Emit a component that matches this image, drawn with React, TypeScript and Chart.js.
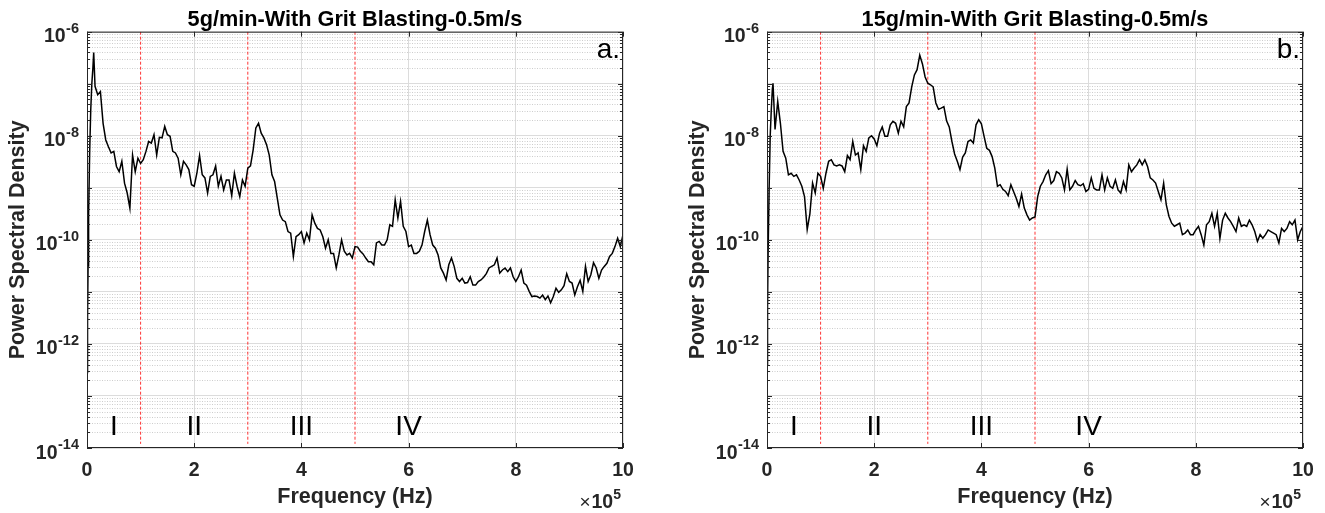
import React, { useEffect, useRef } from 'react';
import { Chart, registerables } from 'chart.js';

Chart.register(...registerables);

const FONT = '"Liberation Sans", Arial, Helvetica, sans-serif';
const INK = '#262626';

const TITLES = ['5g/min-With Grit Blasting-0.5m/s', '15g/min-With Grit Blasting-0.5m/s'];
const PANEL_TAGS = ['a.', 'b.'];
const X_LABEL = 'Frequency (Hz)';
const Y_LABEL = 'Power Spectral Density';
const X_MULTIPLIER_BASE = '10';
const X_MULTIPLIER_EXP = '5';
const X_TICKS = [0, 2, 4, 6, 8, 10];
const Y_GRID_EXPONENTS = [-14, -13, -12, -11, -10, -9, -8, -7, -6];
const Y_LABEL_EXPONENTS = [-6, -8, -10, -12, -14];
const MINOR_MULTIPLIERS = [2, 3, 4, 5, 6, 7, 8, 9];
const Y_MIN = 1e-14;
const Y_MAX = 1e-6;
const REGION_BOUNDARIES = [1, 3, 5];
const REGION_NAMES = ['I', 'II', 'III', 'IV'];
const REGION_NAME_FREQ = [0.5, 2, 4, 6];
const REGION_NAME_PSD = 1.8e-14;
const BOUNDARY_TOP = 1e-6;
const BOUNDARY_BOTTOM = 1.2e-14;

// frequency in units of 1e5 Hz; PSD stored as log10 values
const HEAD_FREQ_A = [0, 0.01, 0.02, 0.03, 0.05, 0.07, 0.09, 0.11, 0.125];
const HEAD_LOG_A = [-12.55, -11.5, -10.5, -9.5, -8.3, -7.5, -7.0, -6.7, -6.4];
const HEAD_FREQ_B = [0, 0.01, 0.02, 0.04, 0.06, 0.08, 0.1, 0.112];
const HEAD_LOG_B = [-12.4, -11.3, -10.3, -9.0, -8.0, -7.5, -7.1, -6.99];

const BODY_START = 0.15;
const BODY_STEP = 0.05;

const BODY_LOG_A = [
  -7.05, -7.21, -7.15, -7.76, -8.08, -8.21, -8.33, -8.30, -8.59, -8.69,
  -8.49, -8.91, -9.10, -9.39, -8.37, -8.69, -8.43, -8.53, -8.46, -8.30,
  -8.11, -8.14, -7.98, -8.37, -8.03, -8.04, -7.82, -7.98, -8.01, -8.30,
  -8.33, -8.43, -8.75, -8.49, -8.56, -8.65, -8.94, -8.97, -8.72, -8.38,
  -8.75, -8.81, -9.10, -8.78, -8.75, -8.58, -8.97, -8.78, -9.04, -8.85,
  -8.85, -9.15, -8.72, -8.97, -9.17, -8.85, -8.97, -8.62, -8.58, -8.27,
  -7.85, -7.76, -7.95, -8.04, -8.17, -8.37, -8.75, -8.88, -9.20, -9.52,
  -9.62, -9.65, -9.84, -9.87, -10.32, -9.94, -9.90, -9.84, -10.06, -9.87,
  -10.00, -9.52, -9.68, -9.78, -9.81, -9.94, -10.16, -10.00, -10.26, -10.26,
  -10.54, -10.29, -10.00, -10.22, -10.29, -10.26, -10.35, -10.13, -10.14, -10.22,
  -10.27, -10.35, -10.42, -10.42, -10.48, -10.06, -10.03, -10.10, -10.10, -10.00,
  -9.71, -9.74, -9.23, -9.58, -9.26, -9.74, -9.84, -10.13, -10.10, -10.26,
  -10.26, -10.22, -10.10, -9.84, -9.62, -9.90, -10.10, -10.16, -10.29, -10.54,
  -10.64, -10.77, -10.48, -10.35, -10.51, -10.74, -10.80, -10.74, -10.83, -10.82,
  -10.71, -10.87, -10.87, -10.80, -10.77, -10.72, -10.65, -10.54, -10.51, -10.48,
  -10.35, -10.64, -10.58, -10.54, -10.61, -10.54, -10.71, -10.80, -10.71, -10.58,
  -10.83, -10.87, -10.99, -11.09, -11.08, -11.09, -11.12, -11.06, -11.15, -11.08,
  -11.21, -11.09, -10.93, -11.01, -10.96, -10.88, -10.65, -10.80, -10.83, -11.06,
  -10.90, -10.78, -10.99, -10.51, -10.80, -10.67, -10.44, -10.54, -10.74, -10.58,
  -10.51, -10.45, -10.32, -10.26, -10.13, -9.97, -10.13, -9.90,
];

const BODY_LOG_B = [
  -7.88, -7.34, -7.76, -8.30, -8.43, -8.75, -8.72, -8.78, -8.75, -8.85,
  -8.97, -9.17, -9.80, -9.50, -8.91, -9.10, -8.72, -8.78, -9.01, -8.72,
  -8.49, -8.46, -8.56, -8.58, -8.56, -8.58, -8.69, -8.38, -8.46, -8.11,
  -8.37, -8.33, -8.65, -8.19, -8.30, -8.04, -8.00, -8.06, -8.19, -7.95,
  -7.83, -8.01, -8.01, -7.79, -7.72, -7.76, -7.95, -7.72, -7.83, -7.44,
  -7.37, -7.06, -6.83, -6.73, -6.45, -6.62, -6.87, -6.99, -7.02, -7.06,
  -7.37, -7.49, -7.47, -7.44, -7.71, -7.83, -8.11, -8.35, -8.49, -8.65,
  -8.41, -8.33, -8.11, -8.08, -8.14, -7.79, -7.69, -7.77, -8.01, -8.24,
  -8.28, -8.40, -8.62, -8.97, -8.94, -9.03, -9.07, -9.15, -8.94, -9.07,
  -9.20, -9.36, -9.12, -9.39, -9.52, -9.62, -9.58, -9.56, -9.17, -8.97,
  -8.88, -8.75, -8.67, -8.92, -8.86, -8.69, -8.72, -8.81, -9.04, -8.64,
  -9.04, -8.97, -8.86, -8.94, -8.96, -8.92, -9.07, -9.03, -8.81, -9.01,
  -9.04, -9.04, -8.75, -9.04, -8.81, -8.97, -9.01, -8.85, -9.04, -9.10,
  -8.88, -9.04, -8.56, -8.69, -8.62, -8.56, -8.46, -8.56, -8.46, -8.59,
  -8.81, -8.85, -8.91, -9.07, -9.23, -8.91, -9.33, -9.55, -9.68, -9.74,
  -9.71, -9.68, -9.90, -9.87, -9.81, -9.90, -9.90, -9.81, -9.74, -9.90,
  -10.10, -9.71, -9.65, -9.49, -9.74, -9.49, -9.97, -9.62, -9.49, -9.58,
  -9.65, -9.74, -9.84, -9.58, -9.74, -9.71, -9.74, -9.62, -9.71, -9.84,
  -10.03, -9.90, -9.97, -9.90, -9.81, -9.84, -9.87, -9.90, -10.06, -9.78,
  -9.84, -9.78, -9.65, -9.71, -9.62, -10.00, -9.84, -9.74,
];

const SERIES = [
  { headFreq: HEAD_FREQ_A, headLog: HEAD_LOG_A, bodyLog: BODY_LOG_A },
  { headFreq: HEAD_FREQ_B, headLog: HEAD_LOG_B, bodyLog: BODY_LOG_B },
];

function buildPoints(idx: number) {
  const s = SERIES[idx];
  const pts: { x: number; y: number }[] = [];
  s.headFreq.forEach((f, i) => pts.push({ x: f, y: Math.pow(10, s.headLog[i]) }));
  s.bodyLog.forEach((v, i) => pts.push({ x: +(BODY_START + i * BODY_STEP).toFixed(2), y: Math.pow(10, v) }));
  return pts;
}

const decorPlugin = {
  id: 'psdDecor',
  beforeDatasetsDraw(chart: any) {
    const { ctx, chartArea: a, scales } = chart;
    const y = scales.y;
    ctx.save();
    ctx.beginPath();
    ctx.rect(a.left, a.top, a.right - a.left, a.bottom - a.top);
    ctx.clip();
    ctx.strokeStyle = '#cdcdcd';
    ctx.lineWidth = 1;
    ctx.setLineDash([1, 1.5]);
    for (let k = 0; k < Y_GRID_EXPONENTS.length - 1; k++) {
      const e = Y_GRID_EXPONENTS[k];
      for (const m of MINOR_MULTIPLIERS) {
        const py = Math.round(y.getPixelForValue(m * Math.pow(10, e))) + 0.5;
        ctx.beginPath();
        ctx.moveTo(a.left, py);
        ctx.lineTo(a.right, py);
        ctx.stroke();
      }
    }
    ctx.restore();
  },
  afterDraw(chart: any, _args: any, opts: any) {
    const { ctx, chartArea: a, scales } = chart;
    const x = scales.x;
    const y = scales.y;
    ctx.save();
    // box
    ctx.strokeStyle = INK;
    ctx.lineWidth = 1;
    ctx.setLineDash([]);
    ctx.strokeRect(a.left + 0.5, a.top + 0.5, a.right - a.left - 1, a.bottom - a.top - 1);
    // x ticks (inward, top and bottom)
    ctx.beginPath();
    for (const v of X_TICKS) {
      const px = Math.round(x.getPixelForValue(v)) + 0.5;
      ctx.moveTo(px, a.bottom);
      ctx.lineTo(px, a.bottom - 5);
      ctx.moveTo(px, a.top);
      ctx.lineTo(px, a.top + 5);
    }
    // y ticks (inward, left and right)
    for (let k = 0; k < Y_GRID_EXPONENTS.length; k++) {
      const e = Y_GRID_EXPONENTS[k];
      const py = Math.round(y.getPixelForValue(Math.pow(10, e))) + 0.5;
      ctx.moveTo(a.left, py);
      ctx.lineTo(a.left + 5, py);
      ctx.moveTo(a.right, py);
      ctx.lineTo(a.right - 5, py);
      if (k < Y_GRID_EXPONENTS.length - 1) {
        for (const m of MINOR_MULTIPLIERS) {
          const pm = Math.round(y.getPixelForValue(m * Math.pow(10, e))) + 0.5;
          ctx.moveTo(a.left, pm);
          ctx.lineTo(a.left + 3, pm);
          ctx.moveTo(a.right, pm);
          ctx.lineTo(a.right - 3, pm);
        }
      }
    }
    ctx.stroke();

    // y tick labels 10^e
    ctx.fillStyle = INK;
    ctx.textBaseline = 'alphabetic';
    for (const e of Y_LABEL_EXPONENTS) {
      const py = y.getPixelForValue(Math.pow(10, e));
      const expText = String(e);
      ctx.font = `bold 14.5px ${FONT}`;
      ctx.textAlign = 'right';
      const ew = ctx.measureText(expText).width;
      ctx.fillText(expText, a.left - 8, py + 1);
      ctx.font = `bold 19.5px ${FONT}`;
      ctx.fillText('10', a.left - 8 - ew - 0.5, py + 10.5);
    }

    // x multiplier  ×10^5
    ctx.textAlign = 'right';
    ctx.font = `bold 14px ${FONT}`;
    const w5 = ctx.measureText(X_MULTIPLIER_EXP).width;
    ctx.fillText(X_MULTIPLIER_EXP, a.right - 2, a.bottom + 51);
    ctx.font = `bold 19.5px ${FONT}`;
    const w10 = ctx.measureText(X_MULTIPLIER_BASE).width;
    ctx.fillText(X_MULTIPLIER_BASE, a.right - 2 - w5, a.bottom + 60);
    ctx.font = `19px ${FONT}`;
    ctx.fillText('\u00D7', a.right - 3 - w5 - w10, a.bottom + 60);

    // region names
    ctx.fillStyle = '#000';
    ctx.font = `28px ${FONT}`;
    ctx.textAlign = 'center';
    REGION_NAMES.forEach((n, i) => {
      ctx.fillText(n, x.getPixelForValue(REGION_NAME_FREQ[i]), y.getPixelForValue(REGION_NAME_PSD));
    });

    // panel tag
    ctx.textAlign = 'right';
    ctx.fillText(opts.tag, a.right - 3, a.top + 26);
    ctx.restore();
  },
};

function PsdPanel({ index, left }: { index: number; left: number }) {
  const ref = useRef<HTMLCanvasElement>(null);
  useEffect(() => {
    if (!ref.current) return;
    const boundarySets = REGION_BOUNDARIES.map((b) => ({
      data: [
        { x: b, y: BOUNDARY_TOP },
        { x: b, y: BOUNDARY_BOTTOM },
      ],
      borderColor: 'rgba(255,30,30,0.9)',
      borderWidth: 1,
      borderDash: [3, 2],
      pointRadius: 0,
      order: 1,
    }));
    const chart = new Chart(ref.current, {
      type: 'line',
      data: {
        datasets: [
          {
            data: buildPoints(index),
            borderColor: '#000',
            borderWidth: 1.5,
            pointRadius: 0,
            tension: 0,
            order: 0,
          },
          ...boundarySets,
        ],
      },
      options: {
        animation: false,
        responsive: false,
        devicePixelRatio: 1,
        layout: { padding: { left: 0, right: 22, top: 0, bottom: 0 } },
        plugins: {
          legend: { display: false },
          tooltip: { enabled: false },
          title: {
            display: true,
            text: TITLES[index],
            fullSize: false,
            color: '#000',
            font: { family: FONT, size: 21.7, weight: 'bold', lineHeight: 1 },
            padding: { top: 9, bottom: 1 },
          },
          psdDecor: { tag: PANEL_TAGS[index] },
        } as any,
        scales: {
          x: {
            type: 'linear',
            min: 0,
            max: 10,
            afterFit: (s: any) => {
              s.height = 65;
            },
            afterBuildTicks: (s: any) => {
              s.ticks = X_TICKS.map((v) => ({ value: v }));
            },
            ticks: {
              color: INK,
              font: { family: FONT, size: 19.5, weight: 'bold' },
              padding: 11,
              maxRotation: 0,
              autoSkip: false,
              callback: (v: any) => String(v),
            },
            grid: { color: '#dcdcdc', drawTicks: false, lineWidth: 1 },
            border: { display: false },
            title: {
              display: true,
              text: X_LABEL,
              color: INK,
              font: { family: FONT, size: 21.5, weight: 'bold' },
              padding: { top: 0, bottom: 2.6 },
            },
          },
          y: {
            type: 'logarithmic',
            min: Y_MIN,
            max: Y_MAX,
            afterFit: (s: any) => {
              s.width = 87;
            },
            afterBuildTicks: (s: any) => {
              s.ticks = Y_GRID_EXPONENTS.map((e) => ({ value: Math.pow(10, e) }));
            },
            ticks: { display: false },
            grid: { color: '#dcdcdc', drawTicks: false, lineWidth: 1 },
            border: { display: false },
            title: {
              display: true,
              text: Y_LABEL,
              color: INK,
              font: { family: FONT, size: 21.5, weight: 'bold' },
              padding: { top: 5.6, bottom: 0 },
            },
          },
        },
      } as any,
      plugins: [decorPlugin],
    });
    return () => chart.destroy();
  }, [index]);
  return (
    <div style={{ position: 'absolute', left, top: 0, width: 645, height: 513 }}>
      <canvas ref={ref} width={645} height={513} style={{ display: 'block' }} />
    </div>
  );
}

export default function App() {
  return (
    <div
      style={{
        position: 'fixed',
        left: 0,
        top: 0,
        width: 1325,
        height: 513,
        background: '#fff',
        overflow: 'hidden',
      }}
    >
      <PsdPanel index={0} left={0} />
      <PsdPanel index={1} left={680} />
    </div>
  );
}
